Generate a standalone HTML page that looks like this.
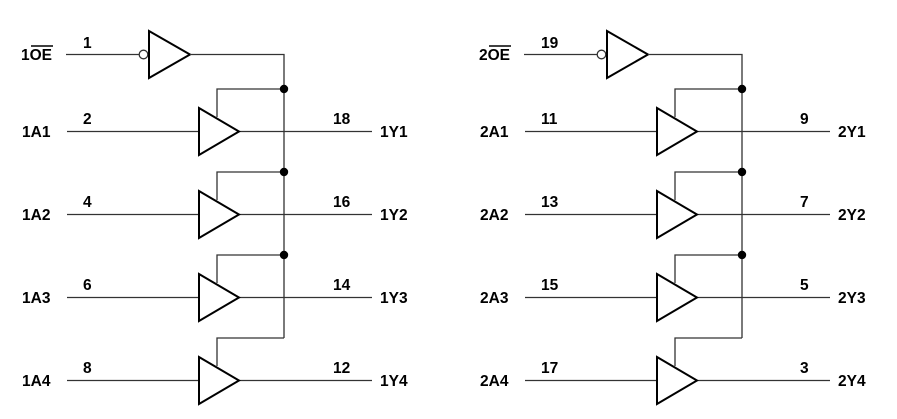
<!DOCTYPE html>
<html><head><style>
body{margin:0;background:#fff}
svg{display:block}
text{font-family:"Liberation Sans",Arial,sans-serif;font-weight:bold;font-size:15.5px;fill:#000}
</style></head><body>
<svg width="897" height="419" viewBox="0 0 897 419" xmlns="http://www.w3.org/2000/svg">
<defs>
<g id="half">
  <line x1="66" y1="54.5" x2="139" y2="54.5" stroke="#333" stroke-width="1.3"/>
  <circle cx="143.5" cy="54.5" r="4.3" fill="#fff" stroke="#333" stroke-width="1.3"/>
  <polygon points="149,31 190,54.5 149,78" fill="#fff" stroke="#000" stroke-width="2"/>
  <polyline points="190,54.5 284,54.5 284,338" fill="none" stroke="#333" stroke-width="1.3"/>
  <g id="row">
    <line x1="67" y1="131.5" x2="372" y2="131.5" stroke="#333" stroke-width="1.3"/>
    <polyline points="217,117 217,89 284,89" fill="none" stroke="#333" stroke-width="1.3"/>
    <polygon points="199,108 239,131.5 199,155" fill="#fff" stroke="#000" stroke-width="2"/>
  </g>
  <use href="#row" y="83"/>
  <use href="#row" y="166"/>
  <use href="#row" y="249"/>
  <circle cx="284" cy="89" r="4.2" fill="#000"/>
  <circle cx="284" cy="172" r="4.2" fill="#000"/>
  <circle cx="284" cy="255" r="4.2" fill="#000"/>
</g>
</defs>
<use href="#half"/>
<use href="#half" x="458"/>
<text x="21" y="60">1OE</text>
<line x1="31" y1="46" x2="53" y2="46" stroke="#000" stroke-width="1.5"/>
<text x="83" y="48">1</text>
<text x="22" y="137">1A1</text><text x="83" y="124">2</text><text x="333" y="124">18</text><text x="380" y="137">1Y1</text>
<text x="22" y="220">1A2</text><text x="83" y="207">4</text><text x="333" y="207">16</text><text x="380" y="220">1Y2</text>
<text x="22" y="303">1A3</text><text x="83" y="290">6</text><text x="333" y="290">14</text><text x="380" y="303">1Y3</text>
<text x="22" y="386">1A4</text><text x="83" y="373">8</text><text x="333" y="373">12</text><text x="380" y="386">1Y4</text>
<text x="479" y="60">2OE</text>
<line x1="489" y1="46" x2="511" y2="46" stroke="#000" stroke-width="1.5"/>
<text x="541" y="48">19</text>
<text x="480" y="137">2A1</text><text x="541" y="124">11</text><text x="800" y="124">9</text><text x="838" y="137">2Y1</text>
<text x="480" y="220">2A2</text><text x="541" y="207">13</text><text x="800" y="207">7</text><text x="838" y="220">2Y2</text>
<text x="480" y="303">2A3</text><text x="541" y="290">15</text><text x="800" y="290">5</text><text x="838" y="303">2Y3</text>
<text x="480" y="386">2A4</text><text x="541" y="373">17</text><text x="800" y="373">3</text><text x="838" y="386">2Y4</text>
</svg>
</body></html>
